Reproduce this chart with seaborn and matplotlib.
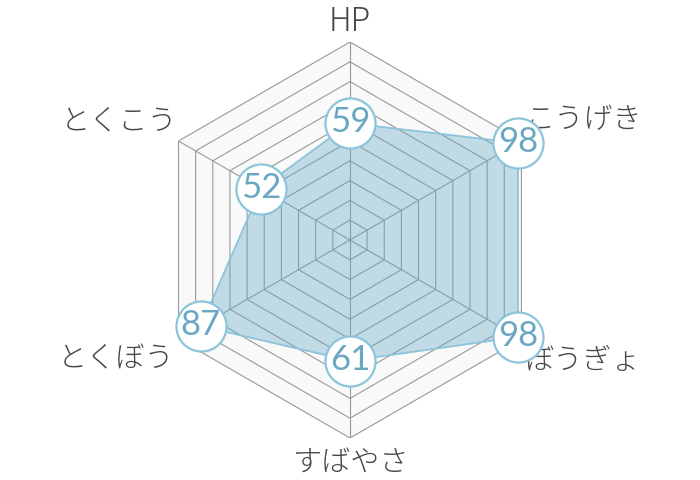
import numpy as np
import matplotlib.pyplot as plt
import seaborn as sns

# --- data ---
stats = ['HP', 'こうげき', 'ぼうぎょ', 'すばやさ', 'とくぼう', 'とくこう']
values = [59, 98, 98, 61, 87, 52]
max_value = 100
ring_levels = [10, 20, 30, 40, 50, 60, 70, 80, 90, 100]

# label offsets from the outer vertex (pixels)
label_offsets = [(0, 20), (62, 21), (61, -22), (0, -24), (-62, -20), (-59, 20)]

# --- style ---
sns.set_theme(style="white")
plt.rcParams['font.family'] = ['Noto Sans CJK JP', 'DejaVu Sans']

text_color = '#464646'
grid_color = '#9a9a9a'
fill_color = '#5ea6c7'
edge_color = '#8cc4dc'
num_color = '#6aa7c2'

angles = np.linspace(0, 2 * np.pi, len(stats), endpoint=False)
closed_angles = np.append(angles, angles[0])
closed_values = values + values[:1]

fig = plt.figure(figsize=(7, 4.8), dpi=100)
ax = fig.add_axes([0.5 - 0.2829, 0.5 - 0.4125, 0.5657, 0.825], projection='polar')
ax.set_theta_offset(np.pi / 2)
ax.set_theta_direction(-1)
ax.set_ylim(0, max_value)
ax.axis('off')

# hexagon background and grid
ax.fill(closed_angles, [max_value] * len(closed_angles), color='#f9f9f9', zorder=0)
for lvl in ring_levels:
    ax.plot(closed_angles, [lvl] * len(closed_angles), color=grid_color, lw=0.8, zorder=1)
for a in angles:
    ax.plot([a, a], [0, max_value], color=grid_color, lw=0.8, zorder=1)

# data polygon
ax.fill(closed_angles, closed_values, color=fill_color, alpha=0.36, zorder=2)
ax.plot(closed_angles, closed_values, color=edge_color, lw=1.2, zorder=3)

# axis labels
for a, name, off in zip(angles, stats, label_offsets):
    fs = 23 if name == 'HP' else 21
    ax.annotate(name, xy=(a, max_value), xytext=off, textcoords='offset pixels',
                ha='center', va='center', fontsize=fs, color=text_color,
                fontweight='light', annotation_clip=False, zorder=4)

# value badges
ax.scatter(angles, values, s=1300, facecolor='white', edgecolor=edge_color,
           linewidth=1.6, zorder=5, clip_on=False)
for a, v in zip(angles, values):
    ax.annotate(str(v), xy=(a, v), xytext=(0, 1), textcoords='offset pixels',
                ha='center', va='center', fontsize=25, color=num_color,
                family=['Lato', 'DejaVu Sans'],
                annotation_clip=False, zorder=6)

plt.savefig('out.png', dpi=100)
